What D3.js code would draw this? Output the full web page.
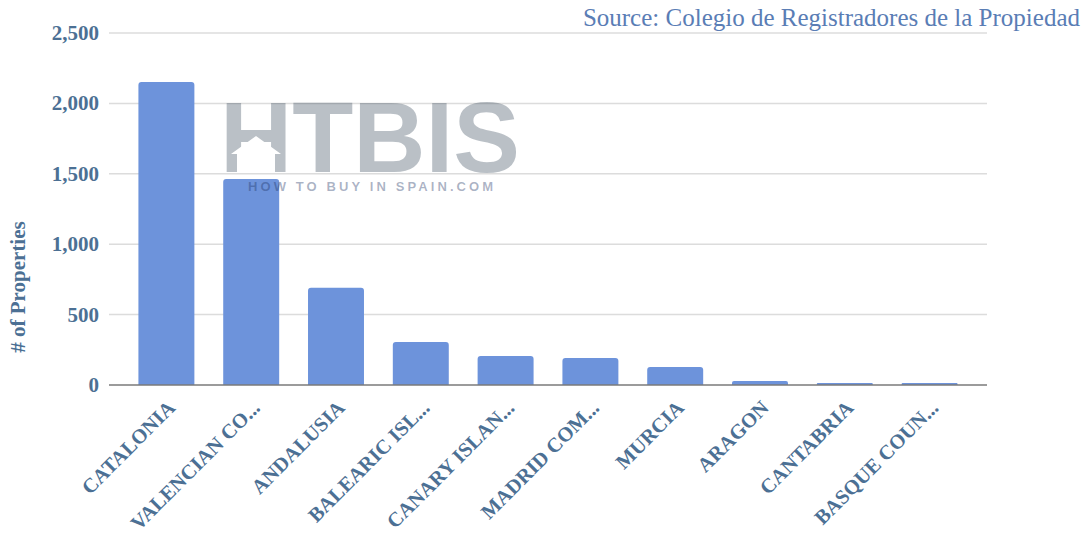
<!DOCTYPE html>
<html>
<head>
<meta charset="utf-8">
<script src="https://cdn.jsdelivr.net/npm/d3@7"></script>
<style>
  body { margin: 0; background: #fff; }
  svg { display: block; }
</style>
</head>
<body>
<div id="chart"></div>
<script>
// data
const regions = ["CATALONIA", "VALENCIAN CO...", "ANDALUSIA", "BALEARIC ISL...", "CANARY ISLAN...",
  "MADRID COM...", "MURCIA", "ARAGON", "CANTABRIA", "BASQUE COUN..."];
const properties = [2152, 1463, 690, 305, 206, 192, 128, 28, 14, 14];
const yTicks = [0, 500, 1000, 1500, 2000, 2500];

const width = 1083, height = 539;
const textColor = "#4c7094";
const serif = "'Liberation Serif', 'DejaVu Serif', serif";

const svg = d3.select("#chart")
  .append("svg")
  .attr("width", width)
  .attr("height", height);

const x = d3.scaleBand()
  .domain(regions)
  .range([124, 972])
  .paddingInner(0.34)
  .paddingOuter(0.17);

const y = d3.scaleLinear()
  .domain([0, 2500])
  .range([385, 33]);

// gridlines
svg.append("g")
  .selectAll("line")
  .data(yTicks.filter(d => d > 0))
  .join("line")
  .attr("x1", 109)
  .attr("x2", 987)
  .attr("y1", d => y(d))
  .attr("y2", d => y(d))
  .attr("stroke", "#dcdcdc")
  .attr("stroke-width", 1.5);

// y tick labels
svg.append("g")
  .selectAll("text")
  .data(yTicks)
  .join("text")
  .attr("x", 99)
  .attr("y", d => y(d) + 7)
  .attr("text-anchor", "end")
  .attr("font-family", serif)
  .attr("font-weight", "bold")
  .attr("font-size", "21px")
  .attr("fill", textColor)
  .text(d => d3.format(",")(d));

// y axis title
svg.append("text")
  .attr("transform", "translate(25, 287) rotate(-90)")
  .attr("text-anchor", "middle")
  .attr("font-family", serif)
  .attr("font-weight", "bold")
  .attr("font-size", "21px")
  .attr("fill", textColor)
  .text("# of Properties");

// bars with slightly rounded tops
svg.append("g")
  .selectAll("path")
  .data(regions)
  .join("path")
  .attr("fill", "#6d93db")
  .attr("d", (d, i) => {
    const x0 = x(d), w = x.bandwidth(), y0 = y(properties[i]), y1 = y(0);
    const r = Math.min(3, (y1 - y0) / 2);
    return `M${x0},${y1} L${x0},${y0 + r} Q${x0},${y0} ${x0 + r},${y0} L${x0 + w - r},${y0} Q${x0 + w},${y0} ${x0 + w},${y0 + r} L${x0 + w},${y1} Z`;
  });

// watermark, semi transparent so it darkens the bar it crosses
const wm = svg.append("g");
wm.append("text")
  .attr("x", 220)
  .attr("y", 172)
  .attr("font-family", "'Liberation Sans', Arial, sans-serif")
  .attr("font-weight", "bold")
  .attr("font-size", "100px")
  .attr("fill", "#2e4051")
  .attr("fill-opacity", 0.33)
  .text("HTBIS");
// house cut out of the H
wm.append("path")
  .attr("d", "M231,154 L256,136 L281,154 L275,154 L275,172 L237,172 L237,154 Z")
  .attr("fill", "#fff");
wm.append("text")
  .attr("x", 248)
  .attr("y", 191)
  .attr("font-family", "'Liberation Sans', Arial, sans-serif")
  .attr("font-weight", "bold")
  .attr("font-size", "13px")
  .attr("letter-spacing", "3.1px")
  .attr("fill", "#1e3566")
  .attr("fill-opacity", 0.38)
  .text("HOW TO BUY IN SPAIN.COM");

// baseline
svg.append("line")
  .attr("x1", 109)
  .attr("x2", 987)
  .attr("y1", y(0))
  .attr("y2", y(0))
  .attr("stroke", "#7a7a7a")
  .attr("stroke-width", 1.5);

// x labels
svg.append("g")
  .selectAll("text")
  .data(regions)
  .join("text")
  .attr("transform", d => `translate(${x(d) + x.bandwidth() / 2 + 10}, 409) rotate(-45)`)
  .attr("text-anchor", "end")
  .attr("font-family", serif)
  .attr("font-weight", "bold")
  .attr("font-size", "20.5px")
  .attr("fill", textColor)
  .text(d => d);

// source note
svg.append("text")
  .attr("x", 1080)
  .attr("y", 26)
  .attr("text-anchor", "end")
  .attr("font-family", serif)
  .attr("font-size", "25px")
  .attr("fill", "#5a7db5")
  .text("Source: Colegio de Registradores de la Propiedad");
</script>
</body>
</html>
